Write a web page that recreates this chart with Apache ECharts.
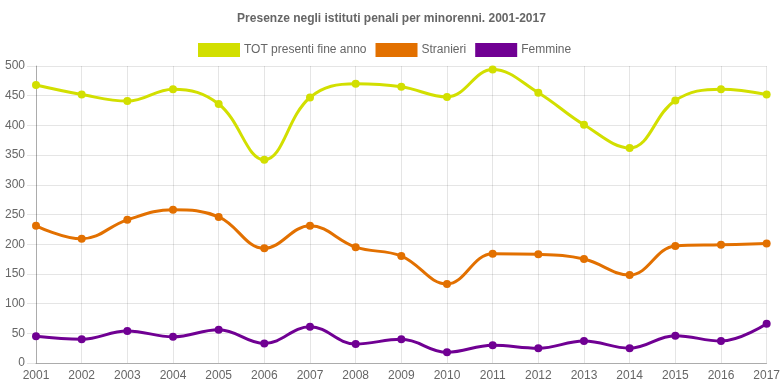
<!DOCTYPE html>
<html>
<head>
<meta charset="utf-8">
<script src="https://cdn.jsdelivr.net/npm/echarts@6/dist/echarts.min.js"></script>
<style>
html,body{margin:0;padding:0;background:#fff;}
#c{width:783px;height:391px;}
</style>
</head>
<body>
<div id="c"></div>
<script>
var years = ['2001','2002','2003','2004','2005','2006','2007','2008','2009','2010','2011','2012','2013','2014','2015','2016','2017'];
var totPresenti = [468,452,441,461,436,342,447,470,465,448,494,455,401,362,442,461,452];
var stranieri = [231,209,241,258,246,193,231,195,180,133,184,183,175,148,197,199,201];
var femmine = [45,40,54,44,56,33,61,32,40,18,30,25,37,25,46,37,66];
var seriesNames = ['TOT presenti fine anno','Stranieri','Femmine'];
var colors = ['#d2df00','#e27000','#700093'];

var chart = echarts.init(document.getElementById('c'));
function mk(name, data, color){
  return {
    name: name, type: 'line', data: data, smooth: 0.4,
    symbol: 'circle', symbolSize: 8, showSymbol: true,
    lineStyle: {width: 3, color: color},
    itemStyle: {color: color},
    emphasis: {disabled: true}
  };
}
chart.setOption({
  animation: false,
  textStyle: {fontFamily: 'Liberation Sans, Arial, sans-serif'},
  title: {
    text: 'Presenze negli istituti penali per minorenni. 2001-2017',
    left: 'center', top: 8,
    textStyle: {fontSize: 12, fontWeight: 'bold', color: '#666', fontFamily: 'Liberation Sans, Arial, sans-serif'}
  },
  legend: {
    top: 38, left: 193,
    itemWidth: 42, itemHeight: 14, itemGap: 9,
    icon: 'rect',
    textStyle: {fontSize: 12, color: '#666', padding: [0,0,0,-1]},
    data: seriesNames
  },
  grid: {left: 36, right: 16, top: 66, bottom: 28, containLabel: false},
  xAxis: {
    type: 'category', data: years, boundaryGap: false,
    axisLine: {lineStyle: {color: 'rgba(0,0,0,0.25)'}},
    axisTick: {show: false},
    axisLabel: {color: '#666', fontSize: 12, margin: 7},
    splitLine: {show: true, lineStyle: {color: 'rgba(0,0,0,0.1)'}}
  },
  yAxis: {
    type: 'value', min: 0, max: 500, interval: 50,
    axisLine: {show: true, lineStyle: {color: 'rgba(0,0,0,0.25)'}},
    axisTick: {show: true, length: 9, lineStyle: {color: 'rgba(0,0,0,0.1)'}},
    axisLabel: {color: '#666', fontSize: 12, margin: 11},
    splitLine: {show: true, lineStyle: {color: 'rgba(0,0,0,0.1)'}}
  },
  series: [
    mk(seriesNames[0], totPresenti, colors[0]),
    mk(seriesNames[1], stranieri, colors[1]),
    mk(seriesNames[2], femmine, colors[2])
  ]
});
</script>
</body>
</html>
